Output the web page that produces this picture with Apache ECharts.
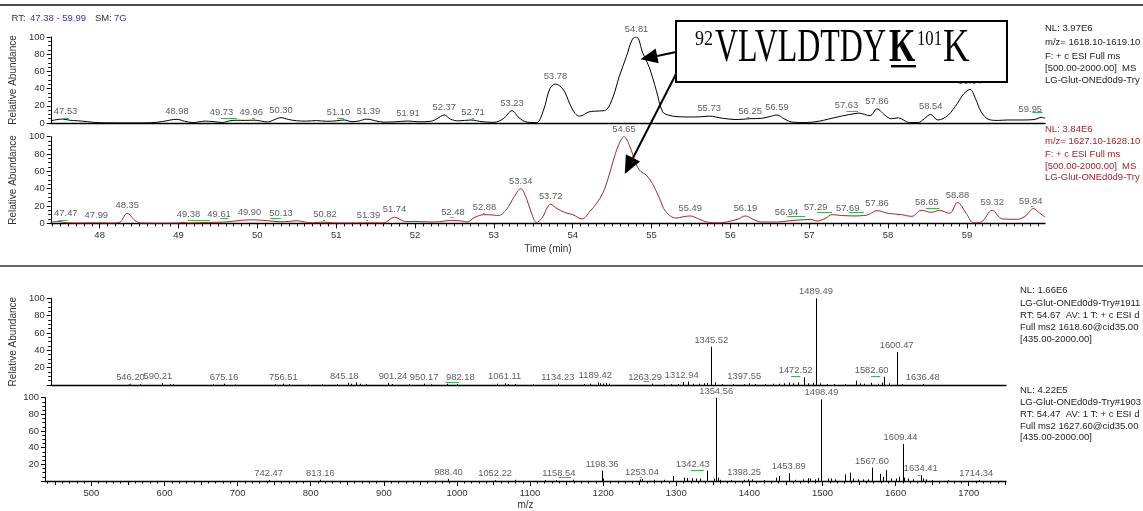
<!DOCTYPE html>
<html>
<head>
<meta charset="utf-8">
<script src="https://cdn.jsdelivr.net/npm/echarts@6/dist/echarts.min.js"></script>
<style>
html,body{margin:0;padding:0;background:#fff;overflow:hidden}
#c{width:1143px;height:511px}
</style>
</head>
<body>
<div id="c"></div>
<script>
// Retention-time window (min) and m/z window of the MS2 panels
const rtRange = [47.38, 59.99];
const mzRange = [436.5, 1751];

// Axis tick labels
const timeTicks = [48, 49, 50, 51, 52, 53, 54, 55, 56, 57, 58, 59];
const mzTicks = [500, 600, 700, 800, 900, 1000, 1100, 1200, 1300, 1400, 1500, 1600, 1700];
const abundanceTicks = [0, 20, 40, 60, 80, 100];

// Extracted ion chromatogram, m/z 1618.10-1619.10  [RT, relative abundance]
const xicLight = [
  [47.38,2.5],[47.45,3.8],[47.53,4.6],[47.62,3.2],[47.72,2.6],[47.85,1.5],[47.95,0.5],[48.1,0.2],[48.4,0.1],[48.65,0.3],
  [48.8,1.8],[48.98,4.3],[49.08,2.0],[49.18,0.5],[49.25,1.2],[49.34,2.2],[49.45,1.5],[49.56,0.6],[49.65,2.5],[49.73,3.2],
  [49.85,3.0],[49.96,3.3],[50.05,2.2],[50.13,1.2],[50.22,4],[50.30,6.2],[50.4,4],[50.5,2.6],[50.62,2.2],[50.75,2.8],
  [50.88,2],[51.0,2.5],[51.10,3.5],[51.2,1.6],[51.28,2.2],[51.39,4.5],[51.5,2.5],[51.6,1.0],[51.75,1.4],[51.91,2.3],
  [52.05,1.4],[52.2,2],[52.28,5],[52.37,9.3],[52.45,4.5],[52.55,2.5],[52.71,3.5],[52.85,1.5],[53.0,0.8],[53.12,5],
  [53.23,14.3],[53.32,6],[53.42,1],[53.54,0.5],[53.63,15],[53.71,40],[53.78,45.3],[53.88,39],[53.96,23],[54.03,11],
  [54.09,8],[54.21,13],[54.34,14],[54.42,15],[54.51,30],[54.59,54],[54.68,77],[54.76,98],[54.81,100],[54.89,81],
  [54.97,65],[55.06,38],[55.14,13],[55.22,9],[55.31,7.5],[55.48,7],[55.62,7.2],[55.73,8],[55.9,5.5],[56.07,4],
  [56.25,5],[56.4,5.5],[56.5,7.5],[56.59,9.3],[56.68,5],[56.78,1],[56.95,0.5],[57.12,2],[57.24,4.5],[57.41,8],
  [57.58,11],[57.63,11.5],[57.77,8.5],[57.86,16.5],[57.96,9],[58.04,5],[58.13,6],[58.27,0.5],[58.38,0.5],[58.46,5],
  [58.54,10],[58.63,3.5],[58.76,9],[58.88,23],[58.96,34],[59.04,39],[59.11,28],[59.18,13],[59.28,4],[59.4,3],
  [59.51,3.5],[59.7,3.5],[59.85,4],[59.95,6.6],[59.99,5.5]
];
// Extracted ion chromatogram, m/z 1627.10-1628.10
const xicHeavy = [
  [47.38,1.2],[47.47,2.2],[47.58,0.6],[47.75,0.3],[47.99,0.5],[48.15,0.2],[48.25,1],[48.35,11.5],[48.45,3],[48.52,0.3],
  [48.8,0.1],[49.0,0.3],[49.05,1.2],[49.12,0.3],[49.25,0.6],[49.38,1],[49.5,1.2],[49.61,1.6],[49.75,3],[49.90,4],
  [50.0,3.8],[50.13,3],[50.25,2],[50.35,1.8],[50.5,3],[50.6,1.5],[50.7,0.5],[50.82,1.5],[50.95,0.5],[51.1,0.3],
  [51.39,0.5],[51.6,0.5],[51.74,7],[51.88,2],[52.0,2.2],[52.1,1.8],[52.25,1.5],[52.48,3.5],[52.6,2.5],[52.66,1.5],
  [52.76,7],[52.88,10],[53.0,9.5],[53.06,9],[53.16,16],[53.26,31],[53.34,40],[53.42,27],[53.48,11],[53.54,1],
  [53.61,6],[53.72,22],[53.8,17],[53.9,12.5],[54.0,10],[54.12,5],[54.22,14],[54.30,22.7],[54.38,34.6],[54.45,52],
  [54.51,71],[54.58,90],[54.65,100],[54.72,90],[54.80,69],[54.86,60],[54.93,56],[55.01,46],[55.1,29],[55.18,13.5],
  [55.31,6],[55.4,7.5],[55.49,8.5],[55.6,5],[55.7,1.5],[55.85,0.5],[56.0,2.5],[56.1,5],[56.19,8.5],[56.3,4],
  [56.4,1.5],[56.6,1.5],[56.75,3],[56.94,4.2],[57.02,4.5],[57.1,2.6],[57.2,5.5],[57.29,10],[57.41,9],[57.58,8.5],
  [57.69,9],[57.75,10],[57.86,14.6],[58.0,11.5],[58.17,10],[58.3,8],[58.42,15],[58.55,12.7],[58.65,15],[58.78,11.5],
  [58.88,24],[59.0,10],[59.08,0.5],[59.18,1.5],[59.32,15],[59.45,5],[59.64,4.6],[59.75,9],[59.84,17],[59.92,12],
  [59.99,7]
];

// Apex retention times labelled on each trace
const apexLight = [47.53,48.98,49.73,49.96,50.30,51.10,51.39,51.91,52.37,52.71,53.23,53.78,54.81,55.73,56.25,56.59,57.63,57.86,58.54,59.04,59.95];
const apexHeavy = [47.47,47.99,48.35,49.38,49.61,49.90,50.13,50.82,51.39,51.74,52.48,52.88,53.34,53.72,54.65,55.49,56.19,56.94,57.29,57.69,57.86,58.65,58.88,59.32,59.84];

// Green peak flags [start RT, end RT, level]
const flagsLight = [[47.54,47.61,6.2],[49.54,49.74,5.4],[49.93,49.97,5.4],[51.01,51.10,5.4],[52.72,52.75,5.4],[56.21,56.24,6.5],[57.47,57.62,14],[59.83,59.96,13]];
const flagsHeavy = [[47.48,47.59,3.8],[47.96,48.0,1.9],[49.12,49.40,3.8],[49.53,49.63,5.8],[50.16,50.30,5.8],[50.83,50.86,3.8],[51.38,51.40,3.8],[52.45,52.49,6.9],[52.86,52.88,11.5],[56.72,56.95,8.8],[57.10,57.29,12.7],[57.50,57.69,12.7],[58.48,58.65,18],[59.81,59.84,20]];

// MS2 of m/z 1618.60 (scan #1911)  [m/z, relative abundance]
const ms2Light = [
  [546.20,1.5],[560,0.8],[590.21,2],[600,0.8],[605,1],[660,0.8],[675.16,1.5],[690,0.6],[745,0.8],[756.51,1.5],
  [765,0.8],[790,0.6],[810,0.8],[830,1.2],[845.18,2.5],[850,1.5],[856,3],[862,1.5],[870,1],[901.24,2.5],
  [906,1],[930,0.8],[950.17,1.5],[960,0.8],[982.18,1.5],[995,1],[1050,1.5],[1061.11,2],[1066,1.2],[1075,1],
  [1100,0.8],[1134.23,1.5],[1170,1],[1178,1.5],[1189.42,3],[1192,2],[1196,1.5],[1200,2.5],[1205,1.5],[1263.29,1.5],
  [1280,0.8],[1290,1],[1300,1],[1306,3.5],[1312.94,4],[1320,1.5],[1328,1.5],[1335,2],[1340,2.5],[1345.52,44],
  [1350,3],[1360,1],[1375,1.2],[1390,1],[1397.55,2],[1405,1],[1420,1.2],[1430,1.5],[1438,1.5],[1445,2],
  [1452,3],[1458,2],[1465,3],[1472.52,9],[1478,2],[1485,2.5],[1489.49,100],[1495,2],[1505,1],[1515,1],
  [1530,1],[1545,5],[1550,2],[1556,1.5],[1565,2.5],[1575,1.5],[1580,3],[1582.60,9.5],[1590,2],[1600.47,38],
  [1608,1],[1636.48,1]
];
// MS2 of m/z 1627.60 (scan #1903)
const ms2Heavy = [
  [742.47,1.2],[813.16,1.5],[988.40,2.5],[1052.22,1],[1080,1.5],[1120,1],[1135,1],[1158.54,1.5],[1198.36,12.5],[1200,3],
  [1250,2],[1253.04,2.5],[1270,1.5],[1283,1.5],[1295,6],[1310,4],[1315,3.5],[1322,3.5],[1327,3],[1332,3],
  [1342.43,12.5],[1352,3],[1354.56,100],[1357,4],[1360,1.5],[1375,1],[1392,1.5],[1398.25,2],[1404,2],[1420,1.2],
  [1437,4],[1440,6],[1453.89,9.4],[1463,1.5],[1473,2],[1480,3.5],[1483,3],[1490,2],[1494,3.5],[1498.49,98],
  [1508,3],[1512,3],[1517,2],[1531,8],[1537,10],[1542,3],[1548,2],[1555,2],[1562,2],[1567.60,16],
  [1578,8.5],[1583,5],[1587,13],[1594,3],[1600,3],[1605,5],[1609.44,44.5],[1612,4],[1617,3],[1624,2],
  [1634.41,7],[1637,3],[1642,2],[1650,1],[1672,1],[1714.34,1.2]
];
const ionsLight = [546.20,590.21,675.16,756.51,845.18,901.24,950.17,982.18,1061.11,1134.23,1189.42,1263.29,1312.94,1345.52,1397.55,1472.52,1489.49,1582.60,1600.47,1636.48];
const ionsHeavy = [742.47,813.16,988.40,1052.22,1158.54,1198.36,1253.04,1342.43,1354.56,1398.25,1453.89,1498.49,1567.60,1609.44,1634.41,1714.34];
const flagsMsLight = [[543,546.2,1.5],[980,998,4],[1252,1260,4.5],[1455,1468,10.4],[1565,1578,10.7]];
const flagsMsHeavy = [[1139,1156,4.9],[1250,1252,5],[1320,1338,13.6],[1630,1634,7.6]];

// Header and file-info texts
const headerParts = [['RT:', '#333'], ['47.38 - 59.99', '#3b3ba6'], ['SM:', '#333'], ['7G', '#3b3ba6']];
const infoLight = ['NL: 3.97E6', 'm/z= 1618.10-1619.10', 'F: + c ESI Full ms', '[500.00-2000.00]  MS', 'LG-Glut-ONEd0d9-Try'];
const infoHeavy = ['NL: 3.84E6', 'm/z= 1627.10-1628.10', 'F: + c ESI Full ms', '[500.00-2000.00]  MS', 'LG-Glut-ONEd0d9-Try'];
const infoMsLight = ['NL: 1.66E6', 'LG-Glut-ONEd0d9-Try#1911', 'RT: 54.67  AV: 1 T: + c ESI d', 'Full ms2 1618.60@cid35.00', '[435.00-2000.00]'];
const infoMsHeavy = ['NL: 4.22E5', 'LG-Glut-ONEd0d9-Try#1903', 'RT: 54.47  AV: 1 T: + c ESI d', 'Full ms2 1627.60@cid35.00', '[435.00-2000.00]'];

// ---------------------------------------------------------------
const FONT = '"Liberation Sans", Arial, sans-serif';
const SERIF = '"Liberation Serif", "Times New Roman", serif';
const INK = '#333';
const RED = '#a3262a';
const GREEN = '#3fb34f';

// horizontal nudges (px) for labels that would otherwise collide
const labelNudge = {
  '47.53': 3, '49.73': -14.5, '49.96': -3, '51.10': -5.5, '51.39': 1.5, '52.71': 2, '57.63': -12.5, '59.95': -11.5,
  '47.47': 8, '47.99': -2.5, '49.38': -20, '49.61': -7.5, '50.13': 13.5, '50.82': 3,
  '56.94': -18, '57.29': -16.5, '57.69': -16, '58.65': -12.5, '59.84': -2.5,
  '590.21': -4.5, '845.18': -3.5, '901.24': 4.5, '982.18': 13, '1189.42': -2.5, '1263.29': -6.5,
  '1312.94': -6, '1397.55': -5, '1472.52': -8, '1582.60': -12,
  '1158.54': -14, '1342.43': -14.5, '1398.25': -4, '1609.44': -2, '1714.34': -3
};

const valueAt = (trace, x) => { const p = trace.find(d => Math.abs(d[0] - x) < 1e-6); return p ? p[1] : 0; };

const minorTime = [];
for (let v = 474; v <= 599; v++) if (v % 10 !== 0) minorTime.push(v / 10);
const minorMz = [];
for (let v = 440; v <= 1750; v += 10) if (v % 50 !== 0) minorMz.push(v);
const midMz = [];
for (let v = 450; v <= 1750; v += 100) midMz.push(v);

function yAxisCfg(grid, showZero, name) {
  return {
    type: 'value', gridIndex: grid, position: 'left', min: 0, max: 100, interval: 20,
    axisLine: { show: true, lineStyle: { color: '#000', width: 1 } },
    axisTick: { show: true, length: 4, lineStyle: { color: '#000' } },
    minorTick: { show: true, splitNumber: 4, length: 2.5, lineStyle: { color: '#000' } },
    splitLine: { show: false }, minorSplitLine: { show: false },
    axisLabel: { fontSize: 9.5, fontFamily: FONT, color: INK, margin: 6,
      formatter: v => (v === 0 && !showZero) ? '' : String(v) },
    name: name || '', nameLocation: 'middle', nameGap: 19, nameRotate: 90,
    nameTextStyle: { fontSize: 10, fontFamily: FONT, color: INK }
  };
}
function plainX(grid, range) {
  return { type: 'value', gridIndex: grid, position: 'bottom', min: range[0], max: range[1],
    axisLine: { show: true, onZero: false, lineStyle: { color: '#000', width: 1.3 } },
    axisTick: { show: false }, axisLabel: { show: false }, splitLine: { show: false } };
}
function tickX(grid, range, ticks, len, labels, name, gap) {
  return { type: 'value', gridIndex: grid, position: 'bottom', min: range[0], max: range[1],
    axisLine: { show: labels, onZero: false, lineStyle: { color: '#000', width: 1.3 } },
    axisTick: { show: true, length: len, customValues: ticks, lineStyle: { color: '#000' } },
    axisLabel: { show: labels, customValues: ticks, fontSize: 9.5, fontFamily: FONT, color: INK, margin: 7,
      formatter: v => String(v) },
    splitLine: { show: false },
    name: name || '', nameLocation: 'middle', nameGap: gap || 20,
    nameTextStyle: { fontSize: 10, fontFamily: FONT, color: INK } };
}

function sticks(xi, yi, data) {
  return { type: 'custom', xAxisIndex: xi, yAxisIndex: yi, data, clip: false, z: 3,
    encode: { x: 0, y: 1 },
    renderItem: (p, api) => {
      const a = api.coord([api.value(0), 0]);
      const b = api.coord([api.value(0), api.value(1)]);
      const x = Math.round(a[0]) + 0.5;
      return { type: 'line', shape: { x1: x, y1: a[1], x2: x, y2: b[1] },
        style: { stroke: '#000', lineWidth: 1 } };
    } };
}
function flags(xi, yi, data) {
  return { type: 'custom', xAxisIndex: xi, yAxisIndex: yi, data, clip: false, z: 4,
    encode: { x: [0, 1], y: 2 },
    renderItem: (p, api) => {
      const a = api.coord([api.value(0), api.value(2)]);
      const b = api.coord([api.value(1), api.value(2)]);
      return { type: 'line', shape: { x1: a[0], y1: Math.round(a[1]) + 0.5, x2: Math.max(b[0], a[0] + 2), y2: Math.round(a[1]) + 0.5 },
        style: { stroke: GREEN, lineWidth: 1 } };
    } };
}
function peakLabels(xi, yi, pts, dist) {
  return { type: 'scatter', xAxisIndex: xi, yAxisIndex: yi, symbolSize: 0.1, clip: false, z: 5,
    silent: true,
    data: pts.map(p => {
      const key = p[0].toFixed(2);
      return { value: p, label: { offset: [labelNudge[key] || 0, 0] } };
    }),
    label: { show: true, position: 'top', distance: dist, fontSize: 9.4, fontFamily: FONT, color: INK,
      formatter: p => p.value[0].toFixed(2) } };
}

const option = {
  animation: false,
  backgroundColor: '#fff',
  grid: [
    { left: 45, top: 37, width: 1000, height: 86 },
    { left: 45, top: 136.7, width: 1000, height: 86.6 },
    { left: 45, top: 298.3, width: 961, height: 86.7 },
    { left: 45, top: 397.7, width: 961, height: 88.3 }
  ],
  xAxis: [
    plainX(0, rtRange),
    tickX(1, rtRange, timeTicks, 5, true, 'Time (min)', 21),
    tickX(1, rtRange, minorTime, 3, false),
    plainX(2, mzRange),
    tickX(3, mzRange, mzTicks, 5, true, 'm/z', 19),
    tickX(3, mzRange, minorMz, 2.5, false),
    tickX(3, mzRange, midMz, 4, false)
  ],
  yAxis: [
    yAxisCfg(0, true, 'Relative Abundance'),
    yAxisCfg(1, true, 'Relative Abundance'),
    yAxisCfg(2, false, 'Relative Abundance'),
    yAxisCfg(3, false, '')
  ],
  series: [
    { type: 'line', xAxisIndex: 0, yAxisIndex: 0, data: xicLight, smooth: 0.35, symbol: 'none',
      lineStyle: { color: '#000', width: 1 }, z: 2 },
    { type: 'line', xAxisIndex: 1, yAxisIndex: 1, data: xicHeavy, smooth: 0.35, symbol: 'none',
      lineStyle: { color: RED, width: 1 }, z: 2 },
    flags(0, 0, flagsLight),
    flags(1, 1, flagsHeavy),
    peakLabels(0, 0, apexLight.map(t => [t, valueAt(xicLight, t)]), 3),
    peakLabels(1, 1, apexHeavy.map(t => [t, valueAt(xicHeavy, t)]), 3),
    sticks(3, 2, ms2Light),
    sticks(4, 3, ms2Heavy),
    flags(3, 2, flagsMsLight),
    flags(4, 3, flagsMsHeavy),
    peakLabels(3, 2, ionsLight.map(m => [m, valueAt(ms2Light, m)]), 2),
    peakLabels(4, 3, ionsHeavy.map(m => [m, valueAt(ms2Heavy, m)]), 2)
  ]
};

const chart = echarts.init(document.getElementById('c'), null, { renderer: 'canvas' });
chart.setOption(option);

// ---- annotations -------------------------------------------------
function txt(x, y, s, color, size, extra) {
  return Object.assign({ type: 'text', x, y, z: 20, silent: true,
    style: { text: s, fill: color, font: size + 'px ' + FONT,
      textAlign: 'left', textVerticalAlign: 'middle', align: 'left', verticalAlign: 'middle' } }, extra || {});
}
function block(x, ys, lines, color, size) {
  return lines.map((s, i) => txt(x, ys[i], s, color, size));
}
function arrow(from, tip, len, half, width) {
  const dx = tip[0] - from[0], dy = tip[1] - from[1];
  const d = Math.hypot(dx, dy), ux = dx / d, uy = dy / d;
  const bx = tip[0] - ux * len, by = tip[1] - uy * len;
  return [
    { type: 'line', z: 30, silent: true, shape: { x1: from[0], y1: from[1], x2: bx, y2: by },
      style: { stroke: '#000', lineWidth: width } },
    { type: 'polygon', z: 30, silent: true,
      shape: { points: [tip, [bx - uy * half, by + ux * half], [bx + uy * half, by - ux * half]] },
      style: { fill: '#000' } }
  ];
}

// arrow targets in data space of each trace
const tipLight = chart.convertToPixel({ seriesIndex: 0 }, [54.86, 74]);
const tipHeavy = chart.convertToPixel({ seriesIndex: 1 }, [54.66, 57]);

const header = [];
const headerX = [11.5, 30, 95, 114];
headerParts.forEach((h, i) => header.push(txt(headerX[i], 18.5, h[0], h[1], 9.5)));

const peptide = [
  { type: 'rect', z: 25, silent: true, shape: { x: 676, y: 21, width: 331, height: 61 },
    style: { fill: '#fff', stroke: '#000', lineWidth: 2 } },
  { type: 'text', z: 26, x: 695, y: 39.5, scaleX: 0.82, silent: true,
    style: { text: '92', fill: '#000', font: '22px ' + SERIF, textVerticalAlign: 'middle', verticalAlign: 'middle' } },
  { type: 'text', z: 26, x: 715, y: 48.5, scaleX: 0.68, silent: true,
    style: { text: 'VLVLDTDY', fill: '#000', font: '47px ' + SERIF, textVerticalAlign: 'middle', verticalAlign: 'middle' } },
  { type: 'text', z: 26, x: 889, y: 48.5, scaleX: 0.72, silent: true,
    style: { text: 'K', fill: '#000', font: 'bold 47px ' + SERIF, textVerticalAlign: 'middle', verticalAlign: 'middle' } },
  { type: 'rect', z: 26, silent: true, shape: { x: 891, y: 65, width: 25, height: 2.4 }, style: { fill: '#000' } },
  { type: 'text', z: 26, x: 917, y: 39.5, scaleX: 0.76, silent: true,
    style: { text: '101', fill: '#000', font: '22px ' + SERIF, textVerticalAlign: 'middle', verticalAlign: 'middle' } },
  { type: 'text', z: 26, x: 943, y: 48.5, scaleX: 0.78, silent: true,
    style: { text: 'K', fill: '#000', font: '47px ' + SERIF, textVerticalAlign: 'middle', verticalAlign: 'middle' } }
];

chart.setOption({
  graphic: [
    { type: 'line', z: 10, silent: true, shape: { x1: 0, y1: 5, x2: 1143, y2: 5 }, style: { stroke: '#111', lineWidth: 1.4 } },
    { type: 'line', z: 10, silent: true, shape: { x1: 0, y1: 266, x2: 1143, y2: 266 }, style: { stroke: '#666', lineWidth: 2 } },
    ...header,
    ...block(1045, [28.3, 42.5, 56, 68.5, 80.5], infoLight, '#222', 9.5),
    ...block(1045, [129, 141.7, 154, 166, 177.7], infoHeavy, RED, 9.5),
    ...block(1020, [290, 303.3, 315.7, 327.7, 339], infoMsLight, '#222', 9.5),
    ...block(1020, [390, 402.7, 414.3, 426, 437.3], infoMsHeavy, '#222', 9.5),
    ...peptide,
    ...arrow([676, 52], tipLight, 17, 7.5, 2),
    ...arrow([676, 74], tipHeavy, 18, 8, 2)
  ]
});
</script>
</body>
</html>
